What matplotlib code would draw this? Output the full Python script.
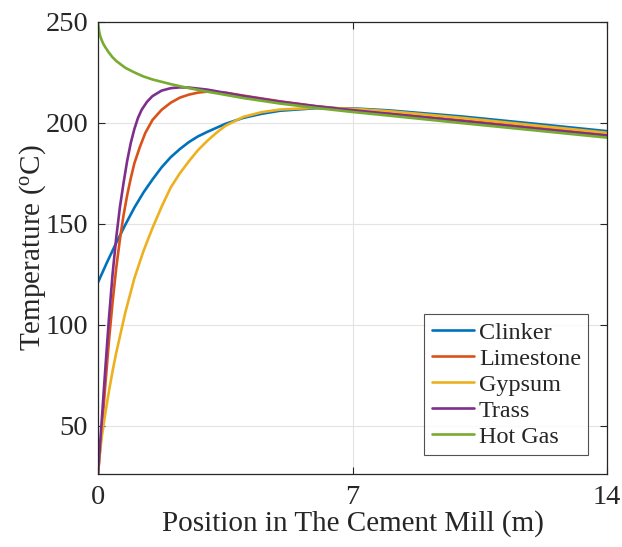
import matplotlib
matplotlib.use("Agg")
import matplotlib.pyplot as plt

# Position along the mill (m) and temperatures (deg C)
x_clinker = [0, 0.1, 0.25, 0.5, 0.75, 1.0, 1.25, 1.5, 1.75, 2.0, 2.25, 2.5, 2.75, 3.0, 3.5, 4.0, 4.5, 5, 6, 7, 8, 10, 12, 14]
clinker   = [121, 125, 131, 140.5, 149.5, 158, 165.5, 172, 178, 183, 187, 190.5, 193.3, 195.5, 199.5, 202.5, 204.5, 206, 207.3, 207.2, 206.2, 203.2, 199.6, 195.9]

x_limestone = [0, 0.1, 0.2, 0.3, 0.4, 0.5, 0.6, 0.7, 0.8, 0.9, 1.0, 1.15, 1.3, 1.5, 1.75, 2.0, 2.25, 2.5, 2.75, 3.0, 3.5, 4.0, 5, 6, 7, 8, 10, 12, 14]
limestone   = [26, 47, 70, 92, 111, 128, 142, 154, 164, 172.5, 180, 188, 195, 201.5, 206.5, 210, 212.5, 214, 215, 215.5, 215, 213.5, 210.7, 208.3, 206.5, 204.8, 201.3, 197.7, 194.2]

x_gypsum = [0, 0.05, 0.1, 0.2, 0.3, 0.4, 0.5, 0.75, 1.0, 1.25, 1.5, 1.75, 2.0, 2.25, 2.5, 2.75, 3.0, 3.25, 3.5, 4.0, 4.5, 5, 6, 7, 8, 10, 12, 14]
gypsum   = [26, 36, 44, 56, 67, 77, 86, 106, 123, 136.5, 148, 158.5, 168, 175, 181, 186.5, 191, 195, 198.5, 203, 205.3, 206.6, 207.5, 207, 205.8, 202.5, 198.8, 195.1]

x_trass = [0, 0.1, 0.2, 0.3, 0.4, 0.5, 0.6, 0.7, 0.8, 0.9, 1.0, 1.1, 1.2, 1.35, 1.5, 1.75, 2.0, 2.25, 2.5, 3.0, 4, 5, 6, 7, 8, 10, 12, 14]
trass   = [26, 52, 78, 103, 125, 143, 158, 170, 181, 190, 197, 202.5, 206.5, 210.5, 213.3, 216, 217.2, 217.6, 217.5, 216.5, 213.3, 210.5, 208.2, 206.3, 204.5, 200.9, 197.2, 193.7]

x_gas = [0, 0.01, 0.03, 0.06, 0.1, 0.15, 0.2, 0.3, 0.4, 0.5, 0.75, 1.0, 1.25, 1.5, 2.0, 2.5, 3, 4, 5, 6, 7, 8, 10, 12, 14]
hot_gas = [250, 248, 245.5, 243, 241, 239, 237.5, 234.8, 232.5, 230.7, 227.3, 225, 223, 221.5, 219.2, 217.2, 215.5, 212.3, 209.6, 207.4, 205.4, 203.6, 199.9, 196.3, 192.7]

labels = ["Clinker", "Limestone", "Gypsum", "Trass", "Hot Gas"]
colors = ["#0072BD", "#D95319", "#EDB120", "#7E2F8E", "#77AC30"]

xticks = [0, 7, 14]
yticks = [50, 100, 150, 200, 250]

plt.rcParams["font.family"] = ["Liberation Serif", "DejaVu Serif"]
plt.rcParams["mathtext.fontset"] = "custom"
plt.rcParams["mathtext.rm"] = "Liberation Serif"
plt.rcParams["mathtext.it"] = "Liberation Serif:italic"

fig = plt.figure(figsize=(6.22, 5.47), dpi=100)
ax = fig.add_axes([0.1576, 0.1335, 0.8183, 0.8263])

series = [(x_clinker, clinker), (x_limestone, limestone), (x_gypsum, gypsum),
          (x_trass, trass), (x_gas, hot_gas)]
for (xs, ys), lab, c in zip(series, labels, colors):
    ax.plot(xs, ys, color=c, lw=1.9, label=lab, solid_capstyle="round",
            solid_joinstyle="round")

ax.set_xlim(0, 14)
ax.set_ylim(26, 250)
ax.set_xticks(xticks)
ax.set_yticks(yticks)
ax.grid(True, color="#e3e3e3", lw=0.8)
ax.set_axisbelow(True)
ax.tick_params(direction="in", top=True, right=True, labelsize=20.5, length=5,
               color="#262626", labelcolor="#262626", pad=7)
ax.tick_params(axis="x", pad=8)
for s in ax.spines.values():
    s.set_color("#262626")
    s.set_linewidth(0.9)

ax.set_xlabel("Position in The Cement Mill (m)", fontsize=21, labelpad=0,
              color="#262626")
ax.set_ylabel("Temperature ($^{\\rm o}$C)", fontsize=21, labelpad=-2,
              color="#262626")

leg = ax.legend(loc="lower right", bbox_to_anchor=(0.963, 0.042), fontsize=17.4,
                frameon=True, fancybox=False, handlelength=1.75, handletextpad=0.2,
                labelspacing=0.17, borderpad=0.3, borderaxespad=0)
leg.get_frame().set_edgecolor("#262626")
leg.get_frame().set_linewidth(0.8)
for t in leg.get_texts():
    t.set_color("#262626")

fig.savefig("out.png", dpi=100)
